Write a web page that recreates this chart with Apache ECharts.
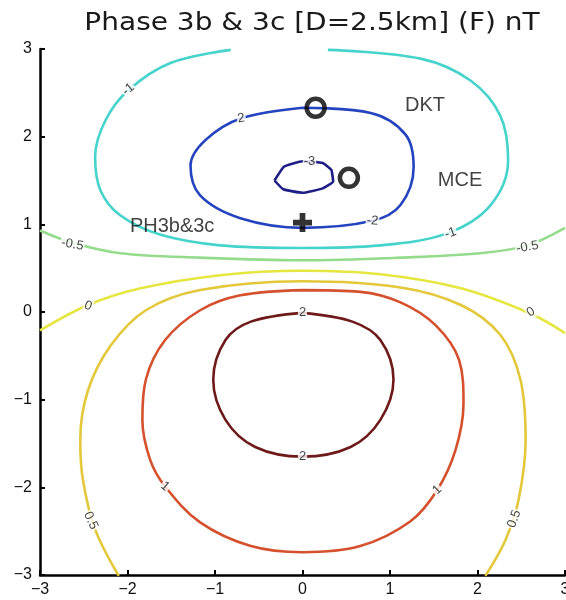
<!DOCTYPE html>
<html>
<head>
<meta charset="utf-8">
<script src="https://cdn.jsdelivr.net/npm/echarts@6/dist/echarts.min.js"></script>
<style>html,body{margin:0;padding:0;background:#fff}#c{width:566px;height:600px}</style>
</head>
<body>
<div id="c"></div>
<script>
// ---- data ----
const titleText = 'Phase 3b & 3c [D=2.5km] (F) nT';
const xTicks = [-3, -2, -1, 0, 1, 2, 3];
const yTicks = [-3, -2, -1, 0, 1, 2, 3];

const contourM3 = [[-0.32,1.50],[-0.21,1.66],[0,1.72],[0.23,1.70],[0.33,1.62],[0.35,1.49],[0.23,1.41],[0,1.36],[-0.22,1.40],[-0.32,1.50]];
const contourM2 = [[0,2.33],[0.78,2.27],[1.18,2.02],[1.27,1.65],[1.12,1.22],[0.80,1.04],[0,0.96],[-0.71,1.07],[-1.17,1.33],[-1.28,1.67],[-1.11,1.96],[-0.70,2.21],[0,2.33]];
const contourM1 = [[0.29,2.99],[1.35,2.89],[1.92,2.64],[2.26,2.24],[2.35,1.73],[2.15,1.22],[1.66,0.90],[0.89,0.76],[0,0.73],[-0.94,0.76],[-1.62,0.88],[-2.08,1.10],[-2.31,1.39],[-2.37,1.77],[-2.25,2.19],[-1.99,2.53],[-1.51,2.84],[-0.82,2.99]];
const contourM05 = [[-3,0.93],[-2.63,0.79],[-2.08,0.67],[-1.17,0.62],[0,0.59],[1.12,0.62],[2.03,0.67],[2.57,0.76],[3,0.96]];
const contour0 = [[-3,-0.21],[-2.45,0.08],[-1.85,0.27],[-0.94,0.42],[0,0.47],[0.89,0.43],[1.81,0.27],[2.61,-0.02],[3,-0.24]];
const contour05 = [[-2.10,-3.01],[-2.37,-2.48],[-2.51,-1.91],[-2.54,-1.46],[-2.45,-0.89],[-2.19,-0.38],[-1.79,0.02],[-1.17,0.25],[0,0.35],[1.12,0.28],[1.81,0.08],[2.26,-0.26],[2.49,-0.77],[2.55,-1.46],[2.47,-2.14],[2.32,-2.60],[2.09,-3.01]];
const contour1 = [[0,0.25],[0.66,0.23],[1.12,0.11],[1.52,-0.15],[1.79,-0.55],[1.84,-1.04],[1.75,-1.57],[1.54,-2.03],[1.23,-2.39],[0.66,-2.67],[0,-2.74],[-0.59,-2.67],[-1.17,-2.40],[-1.57,-1.99],[-1.74,-1.69],[-1.83,-1.23],[-1.79,-0.77],[-1.57,-0.32],[-1.17,0.02],[-0.71,0.19],[0,0.25]];
const contour2 = [[0,-0.01],[0.57,-0.11],[0.89,-0.32],[1.04,-0.77],[0.89,-1.23],[0.55,-1.54],[0,-1.65],[-0.54,-1.54],[-0.88,-1.23],[-1.02,-0.77],[-0.88,-0.32],[-0.59,-0.11],[0,-0.01]];

// contour label positions [x, y] and texts
const labelPos = [[-1.99,2.54],[-0.70,2.21],[0.08,1.72],[0.80,1.04],[1.69,0.90],[-2.63,0.77],[2.57,0.74],[-2.45,0.07],[2.61,0.0],[0,-0.01],[0,-1.65],[-1.57,-1.99],[1.54,-2.03],[-2.42,-2.38],[2.42,-2.36]];
const labelText = ['-1','2','-3','-2','-1','-0.5','-0.5','0','0','2','2','1','1','0.5','0.5'];
const labelRot = [40, 10, 0, -5, 20, -10, 10, -20, 30, 0, 0, -40, 45, -65, 70];

const siteCircles = [[0.15,2.33],[0.53,1.53]];
const sitePlus = [[0,1.02]];
const siteNames = ['DKT','MCE','PH3b&3c'];
const sitePos = [[1.40,2.35],[1.80,1.50],[-1.49,0.98]];

// ---- chart ----
const chart = echarts.init(document.getElementById('c'), null, {renderer:'canvas'});

function contourSeries(data, color, smooth) {
  return {
    type:'line', data: data, smooth: smooth, symbol:'none', clip:true,
    lineStyle:{color: color, width: 2.6}, z: 2, silent:true
  };
}

const labelData = labelPos.map((p, i) => ({value: p, name: labelText[i], label:{rotate: labelRot[i]}}));

const option = {
  animation:false,
  backgroundColor:'#fff',
  graphic:[{
    type:'text', x: 312, y: 23, scaleX: 1.12,
    style:{text: titleText, font:'25px "DejaVu Sans", sans-serif', fill:'#1a1a1a', textAlign:'center', textVerticalAlign:'middle'}
  }],
  grid:{left:40, right:1, top:49, bottom:25, containLabel:false, outerBoundsMode:'none'},
  xAxis:{
    type:'value', min:-3, max:3, interval:1,
    axisLine:{show:true, onZero:false, lineStyle:{color:'#000', width:2.5}},
    axisTick:{show:true, inside:true, length:5, lineStyle:{color:'#000', width:2}},
    axisLabel:{color:'#111', fontSize:16, margin:7, fontFamily:'"Liberation Sans", Arial, sans-serif',
      formatter: v => (xTicks.indexOf(v) >= 0 ? String(v).replace('-', '\u2212') : '')},
    splitLine:{show:false}
  },
  yAxis:{
    type:'value', min:-3, max:3, interval:1,
    axisLine:{show:true, onZero:false, lineStyle:{color:'#000', width:2.5}},
    axisTick:{show:true, inside:true, length:5, lineStyle:{color:'#000', width:2}},
    axisLabel:{color:'#111', fontSize:16, margin:8, fontFamily:'"Liberation Sans", Arial, sans-serif',
      formatter: v => (yTicks.indexOf(v) >= 0 ? String(v).replace('-', '\u2212') : '')},
    splitLine:{show:false}
  },
  series:[
    contourSeries(contourM3, '#1e1e86', 0.12),
    contourSeries(contourM2, '#2444bf', 0.35),
    contourSeries(contourM1, '#45d3cc', 0.35),
    contourSeries(contourM05, '#94dc8c', 0.35),
    contourSeries(contour0, '#e6e640', 0.35),
    contourSeries(contour05, '#e2c83a', 0.35),
    contourSeries(contour1, '#d5502c', 0.35),
    contourSeries(contour2, '#6e1a1a', 0.35),
    {
      type:'scatter', data: labelData, symbolSize: 1, itemStyle:{color:'rgba(0,0,0,0)'}, z: 5, silent:true,
      label:{show:true, position:'inside', formatter: p => p.name, color:'#111', fontSize:13,
        fontFamily:'"Liberation Sans", Arial, sans-serif', backgroundColor:'#fff', padding:[0,1]}
    },
    {
      type:'scatter', data: siteCircles, symbol:'circle', symbolSize: 18, z: 8, silent:true,
      itemStyle:{color:'rgba(0,0,0,0)', borderColor:'#000', borderWidth:4.5}
    },
    {
      type:'scatter', data: sitePlus, symbol:'path://M7,0h6v7h7v6h-7v7h-6v-7h-7v-6h7z', symbolSize: 19, z: 8, silent:true,
      itemStyle:{color:'#000'}
    },
    {
      type:'scatter', data: sitePos.map((p, i) => ({value:p, name: siteNames[i]})), symbolSize:1,
      itemStyle:{color:'rgba(0,0,0,0)'}, z: 9, silent:true,
      label:{show:true, position:'inside', formatter: p => p.name, color:'#111', fontSize:20,
        fontFamily:'"Liberation Sans", Arial, sans-serif'}
    }
  ]
};
chart.setOption(option);
</script>
</body>
</html>
